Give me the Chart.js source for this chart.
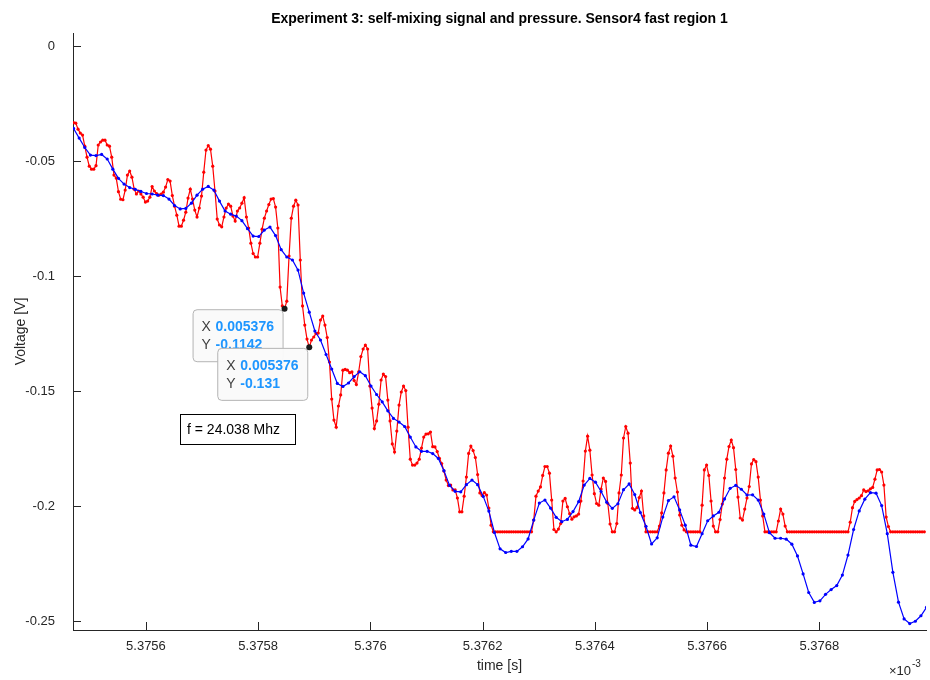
<!DOCTYPE html>
<html>
<head>
<meta charset="utf-8">
<script src="https://cdn.jsdelivr.net/npm/chart.js@4.4.1/dist/chart.umd.min.js"></script>
<style>
  html, body { margin: 0; padding: 0; background: #fff; }
  #chart { display: block; }
</style>
</head>
<body>
<canvas id="chart" width="930" height="680"></canvas>
<script>
// sample clocks, seconds
const redStart = 5.375471e-3;
const redStep = 4e-9;
const blueStart = 5.375471e-3;
const blueStep = 1e-8;

// self-mixing signal [V] (clipped at -0.2112)
const redVolts = [
  -0.0333,-0.0335,-0.0361,-0.0378,-0.0387,-0.0435,-0.0483,-0.0522,-0.0535,-0.0535,
  -0.0520,-0.0430,-0.0417,-0.0409,-0.0409,-0.0430,-0.0435,-0.0483,-0.0561,-0.0574,
  -0.0633,-0.0666,-0.0668,-0.0626,-0.0561,-0.0543,-0.0570,-0.0622,-0.0643,-0.0630,
  -0.0643,-0.0657,-0.0678,-0.0674,-0.0657,-0.0611,-0.0630,-0.0641,-0.0648,-0.0643,
  -0.0635,-0.0613,-0.0580,-0.0587,-0.0650,-0.0696,-0.0735,-0.0783,-0.0783,-0.0757,
  -0.0722,-0.0661,-0.0622,-0.0665,-0.0713,-0.0743,-0.0704,-0.0652,-0.0548,-0.0452,
  -0.0433,-0.0448,-0.0522,-0.0630,-0.0752,-0.0778,-0.0786,-0.0743,-0.0704,-0.0687,
  -0.0696,-0.0739,-0.0761,-0.0717,-0.0704,-0.0683,-0.0659,-0.0743,-0.0791,-0.0857,
  -0.0902,-0.0917,-0.0917,-0.0857,-0.0796,-0.0748,-0.0717,-0.0689,-0.0665,-0.0663,
  -0.0700,-0.0791,-0.1048,-0.1130,-0.1142,-0.1109,-0.0913,-0.0748,-0.0696,-0.0670,
  -0.0691,-0.0930,-0.1130,-0.1213,-0.1274,-0.1310,-0.1278,-0.1265,-0.1250,-0.1248,
  -0.1191,-0.1174,-0.1213,-0.1267,-0.1374,-0.1535,-0.1626,-0.1657,-0.1565,-0.1517,
  -0.1409,-0.1406,-0.1409,-0.1420,-0.1417,-0.1454,-0.1472,-0.1417,-0.1350,-0.1317,
  -0.1300,-0.1317,-0.1478,-0.1574,-0.1663,-0.1630,-0.1557,-0.1452,-0.1426,-0.1437,
  -0.1539,-0.1630,-0.1730,-0.1765,-0.1674,-0.1561,-0.1504,-0.1478,-0.1498,-0.1657,
  -0.1796,-0.1822,-0.1822,-0.1813,-0.1796,-0.1748,-0.1700,-0.1687,-0.1686,-0.1678,
  -0.1742,-0.1743,-0.1763,-0.1793,-0.1815,-0.1848,-0.1887,-0.1911,-0.1909,-0.1930,
  -0.1930,-0.1965,-0.2025,-0.2025,-0.1957,-0.1874,-0.1771,-0.1739,-0.1759,-0.1789,
  -0.1863,-0.1943,-0.1954,-0.1942,-0.1952,-0.2009,-0.2083,-0.2112,-0.2112,-0.2112,
  -0.2112,-0.2112,-0.2112,-0.2112,-0.2112,-0.2112,-0.2112,-0.2112,-0.2112,-0.2112,
  -0.2112,-0.2112,-0.2112,-0.2112,-0.2112,-0.2061,-0.1957,-0.1935,-0.1917,-0.1867,
  -0.1828,-0.1828,-0.1857,-0.1974,-0.2102,-0.2112,-0.2100,-0.2076,-0.1978,-0.1967,
  -0.2003,-0.2033,-0.2057,-0.2047,-0.2043,-0.2035,-0.1978,-0.1891,-0.1761,-0.1696,
  -0.1757,-0.1865,-0.1946,-0.1989,-0.1996,-0.1926,-0.1878,-0.1893,-0.1989,-0.2078,
  -0.2112,-0.2112,-0.2076,-0.1943,-0.1865,-0.1704,-0.1654,-0.1683,-0.1813,-0.2010,
  -0.2017,-0.2007,-0.1963,-0.1935,-0.2043,-0.2112,-0.2112,-0.2112,-0.2112,-0.2112,
  -0.2112,-0.2087,-0.2030,-0.1943,-0.1843,-0.1770,-0.1739,-0.1783,-0.1878,-0.1939,
  -0.2039,-0.2083,-0.2104,-0.2112,-0.2112,-0.2112,-0.2112,-0.2112,-0.2112,-0.2112,
  -0.1996,-0.1843,-0.1822,-0.1867,-0.1978,-0.2087,-0.2112,-0.2112,-0.2059,-0.1991,
  -0.1878,-0.1796,-0.1741,-0.1713,-0.1746,-0.1841,-0.1961,-0.2052,-0.2061,-0.2013,
  -0.1965,-0.1915,-0.1817,-0.1798,-0.1807,-0.1874,-0.1974,-0.2043,-0.2112,-0.2112,
  -0.2112,-0.2112,-0.2112,-0.2112,-0.2065,-0.2013,-0.2035,-0.2087,-0.2112,-0.2112,
  -0.2112,-0.2112,-0.2112,-0.2112,-0.2112,-0.2112,-0.2112,-0.2112,-0.2112,-0.2112,
  -0.2112,-0.2112,-0.2112,-0.2112,-0.2112,-0.2112,-0.2112,-0.2112,-0.2112,-0.2112,
  -0.2112,-0.2112,-0.2112,-0.2112,-0.2112,-0.2112,-0.2070,-0.2007,-0.1980,-0.1972,
  -0.1965,-0.1955,-0.1930,-0.1937,-0.1934,-0.1925,-0.1919,-0.1883,-0.1843,-0.1841,
  -0.1852,-0.1909,-0.2048,-0.2089,-0.2112,-0.2112,-0.2112,-0.2112,-0.2112,-0.2112,
  -0.2112,-0.2112,-0.2112,-0.2112,-0.2112,-0.2112,-0.2112,-0.2112,-0.2112,-0.2112
];

// pressure sensor [V]
const blueVolts = [
  -0.0358,-0.0400,-0.0441,-0.0474,-0.0476,-0.0471,-0.0491,-0.0535,-0.0575,-0.0600,
  -0.0615,-0.0623,-0.0632,-0.0641,-0.0643,-0.0648,-0.0650,-0.0665,-0.0693,-0.0708,
  -0.0706,-0.0683,-0.0648,-0.0622,-0.0610,-0.0626,-0.0674,-0.0717,-0.0731,-0.0739,
  -0.0759,-0.0794,-0.0826,-0.0828,-0.0800,-0.0787,-0.0824,-0.0885,-0.0917,-0.0930,
  -0.0974,-0.1074,-0.1157,-0.1239,-0.1278,-0.1341,-0.1404,-0.1467,-0.1480,-0.1465,
  -0.1437,-0.1416,-0.1433,-0.1478,-0.1515,-0.1547,-0.1586,-0.1619,-0.1635,-0.1654,
  -0.1700,-0.1743,-0.1762,-0.1762,-0.1772,-0.1793,-0.1846,-0.1910,-0.1936,-0.1938,
  -0.1907,-0.1887,-0.1907,-0.1958,-0.2022,-0.2115,-0.2186,-0.2202,-0.2197,-0.2197,
  -0.2177,-0.2143,-0.2061,-0.1987,-0.1974,-0.2009,-0.2049,-0.2068,-0.2058,-0.2024,
  -0.1981,-0.1909,-0.1880,-0.1896,-0.1937,-0.1983,-0.2010,-0.1990,-0.1929,-0.1904,
  -0.1950,-0.2028,-0.2088,-0.2165,-0.2138,-0.2048,-0.1976,-0.1960,-0.2017,-0.2083,
  -0.2170,-0.2176,-0.2120,-0.2064,-0.2043,-0.2027,-0.1969,-0.1923,-0.1910,-0.1927,
  -0.1952,-0.1951,-0.1974,-0.2035,-0.2116,-0.2140,-0.2140,-0.2144,-0.2166,-0.2217,
  -0.2295,-0.2376,-0.2419,-0.2412,-0.2384,-0.2363,-0.2346,-0.2300,-0.2213,-0.2102,
  -0.2021,-0.1970,-0.1942,-0.1944,-0.1998,-0.2120,-0.2288,-0.2418,-0.2491,-0.2511,
  -0.2501,-0.2477,-0.2440
];

const xTicks = [5.3756e-3, 5.3758e-3, 5.376e-3, 5.3762e-3, 5.3764e-3, 5.3766e-3, 5.3768e-3];
const xTickLabels = ['5.3756', '5.3758', '5.376', '5.3762', '5.3764', '5.3766', '5.3768'];
const yTicks = [0, -0.05, -0.1, -0.15, -0.2, -0.25];
const yTickLabels = ['0', '-0.05', '-0.1', '-0.15', '-0.2', '-0.25'];

// red samples that carry a data tip
const tipIndex = [94, 105];
const freqNote = 'f = 24.038 Mhz';

const titleText = 'Experiment 3: self-mixing signal and pressure. Sensor4 fast region 1';
const xTitle = 'time [s]';
const yTitle = 'Voltage [V]';

const redPoints = redVolts.map((v, i) => ({ x: redStart + i * redStep, y: v }));
const bluePoints = blueVolts.map((v, i) => ({ x: blueStart + i * blueStep, y: v }));

const FONT = '"Liberation Sans", Arial, sans-serif';
const AXIS_COLOR = '#262626';

function shortNum(v) {
    return String(Number(v.toPrecision(4)));
}

function roundRect(ctx, x, y, w, h, r) {
    ctx.beginPath();
    ctx.moveTo(x + r, y);
    ctx.lineTo(x + w - r, y);
    ctx.arcTo(x + w, y, x + w, y + r, r);
    ctx.lineTo(x + w, y + h - r);
    ctx.arcTo(x + w, y + h, x + w - r, y + h, r);
    ctx.lineTo(x + r, y + h);
    ctx.arcTo(x, y + h, x, y + h - r, r);
    ctx.lineTo(x, y + r);
    ctx.arcTo(x, y, x + r, y, r);
    ctx.closePath();
}

// inward tick marks, labels, data tips and the frequency note
const matlabDecor = {
    id: 'matlabDecor',
    afterDraw(chart) {
        const { ctx, chartArea: a, scales: { x, y } } = chart;
        ctx.save();

        // inward ticks
        ctx.strokeStyle = AXIS_COLOR;
        ctx.lineWidth = 1;
        ctx.beginPath();
        xTicks.forEach(t => {
            const px = Math.round(x.getPixelForValue(t)) + 0.5;
            ctx.moveTo(px, a.bottom);
            ctx.lineTo(px, a.bottom - 8);
        });
        yTicks.forEach(t => {
            const py = Math.round(y.getPixelForValue(t)) + 0.5;
            ctx.moveTo(a.left, py);
            ctx.lineTo(a.left + 8, py);
        });
        ctx.stroke();

        // title
        ctx.fillStyle = '#000';
        ctx.font = 'bold 14px ' + FONT;
        ctx.textAlign = 'center';
        ctx.textBaseline = 'middle';
        ctx.fillText(titleText, (a.left + a.right) / 2, 19);

        // axis labels
        ctx.fillStyle = AXIS_COLOR;
        ctx.font = '14px ' + FONT;
        ctx.fillText(xTitle, (a.left + a.right) / 2, 666);
        ctx.save();
        ctx.translate(21, (a.top + a.bottom) / 2);
        ctx.rotate(-Math.PI / 2);
        ctx.fillText(yTitle, 0, 0);
        ctx.restore();

        // exponent
        ctx.textAlign = 'left';
        ctx.font = '13px ' + FONT;
        ctx.fillText('\u00d710', 889, 671);
        ctx.font = '10px ' + FONT;
        ctx.fillText('-3', 912, 664);

        // data tips
        tipIndex.forEach(i => {
            const p = redPoints[i];
            const px = x.getPixelForValue(p.x);
            const py = y.getPixelForValue(p.y);
            const bx = px - 92, by = py + 0.5, bw = 90, bh = 52;
            roundRect(ctx, bx + 0.5, by + 0.5, bw, bh, 4);
            ctx.fillStyle = 'rgba(250,250,250,0.97)';
            ctx.fill();
            ctx.strokeStyle = '#b4b4b4';
            ctx.lineWidth = 1;
            ctx.stroke();

            ctx.textBaseline = 'middle';
            ctx.textAlign = 'left';
            ctx.font = '14px ' + FONT;
            ctx.fillStyle = '#404040';
            ctx.fillText('X', bx + 9, by + 18);
            ctx.fillText('Y', bx + 9, by + 36);
            ctx.font = 'bold 14px ' + FONT;
            ctx.fillStyle = '#1e96ff';
            ctx.fillText(shortNum(p.x), bx + 23, by + 18);
            ctx.fillText(shortNum(p.y), bx + 23, by + 36);

            ctx.beginPath();
            ctx.arc(px, py, 3, 0, Math.PI * 2);
            ctx.fillStyle = '#1a1a1a';
            ctx.fill();
        });

        // frequency note
        ctx.fillStyle = '#fff';
        ctx.fillRect(180.5, 414.5, 115, 30);
        ctx.strokeStyle = '#000';
        ctx.lineWidth = 1;
        ctx.strokeRect(180.5, 414.5, 115, 30);
        ctx.fillStyle = '#000';
        ctx.font = '14px ' + FONT;
        ctx.textAlign = 'left';
        ctx.textBaseline = 'middle';
        ctx.fillText(freqNote, 187, 430);

        ctx.restore();
    }
};

new Chart(document.getElementById('chart'), {
    type: 'line',
    data: {
        datasets: [
            {
                label: 'signal',
                data: redPoints,
                borderColor: '#ff0000',
                backgroundColor: '#ff0000',
                borderWidth: 1.2,
                pointRadius: 1.6,
                pointBorderWidth: 0,
                tension: 0,
                order: 2
            },
            {
                label: 'pressure',
                data: bluePoints,
                borderColor: '#0000ff',
                backgroundColor: '#0000ff',
                borderWidth: 1.2,
                pointRadius: 1.6,
                pointBorderWidth: 0,
                tension: 0,
                order: 1
            }
        ]
    },
    options: {
        responsive: false,
        animation: false,
        devicePixelRatio: 1,
        layout: { padding: { left: 0, top: 33, right: 2, bottom: 0 } },
        plugins: {
            legend: { display: false },
            tooltip: { enabled: false },
            title: { display: false }
        },
        scales: {
            x: {
                type: 'linear',
                min: 5.37547e-3,
                max: 5.37699e-3,
                afterFit: s => { s.height = 50; },
                afterBuildTicks: s => { s.ticks = xTicks.map(v => ({ value: v })); },
                grid: { display: false },
                border: { display: true, color: AXIS_COLOR, width: 1 },
                ticks: {
                    padding: 1,
                    maxRotation: 0,
                    autoSkip: false,
                    color: AXIS_COLOR,
                    font: { family: FONT, size: 13 },
                    callback: (v, i) => xTickLabels[i]
                }
            },
            y: {
                type: 'linear',
                min: -0.2539,
                max: 0.0057,
                afterFit: s => { s.width = 73; },
                afterBuildTicks: s => { s.ticks = yTicks.map(v => ({ value: v })); },
                grid: { display: false },
                border: { display: true, color: AXIS_COLOR, width: 1 },
                ticks: {
                    padding: 10,
                    autoSkip: false,
                    color: AXIS_COLOR,
                    font: { family: FONT, size: 13 },
                    callback: (v, i) => yTickLabels[i]
                }
            }
        }
    },
    plugins: [matlabDecor]
});
</script>
</body>
</html>
